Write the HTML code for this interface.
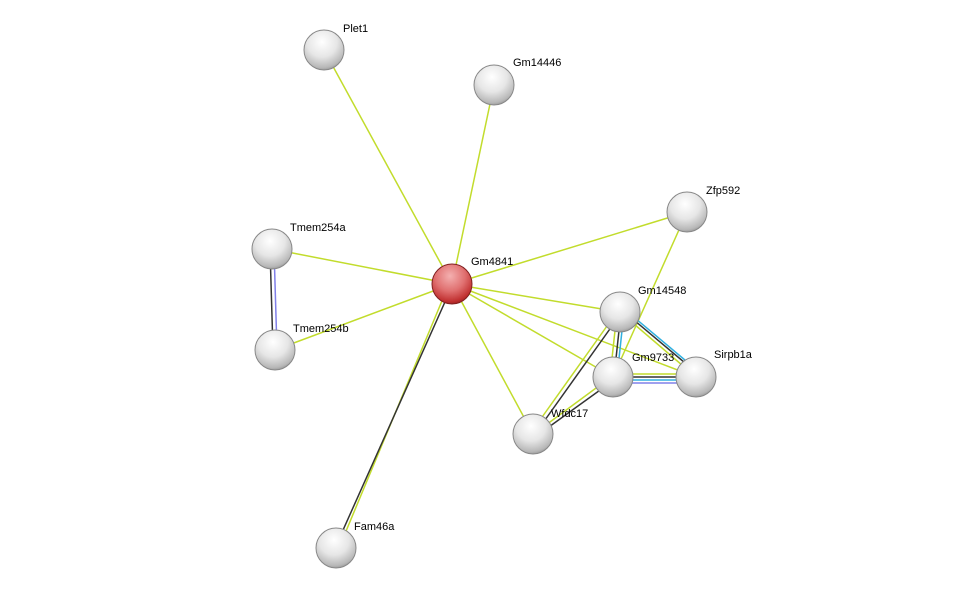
<!DOCTYPE html>
<html><head><style>
html,body{margin:0;padding:0;background:#fff;}
svg{display:block;}
text{font-family:"Liberation Sans",sans-serif;font-size:11px;fill:#000;}
</style></head><body>
<svg width="975" height="593" viewBox="0 0 975 593">
<defs>
<radialGradient id="g" cx="0.45" cy="0.3" r="0.75">
<stop offset="0" stop-color="#ffffff"/><stop offset="0.5" stop-color="#e6e6e6"/><stop offset="0.85" stop-color="#b8b8b8"/><stop offset="1" stop-color="#8a8a8a"/>
</radialGradient>
<radialGradient id="r" cx="0.45" cy="0.3" r="0.75">
<stop offset="0" stop-color="#f4b0b0"/><stop offset="0.5" stop-color="#e07070"/><stop offset="0.85" stop-color="#c03030"/><stop offset="1" stop-color="#8a1a1a"/>
</radialGradient>
</defs>
<g stroke="#c2dc2c" stroke-width="1.5" fill="none">
<line x1="452" y1="284" x2="324" y2="50"/>
<line x1="452" y1="284" x2="494" y2="85"/>
<line x1="452" y1="284" x2="687" y2="212"/>
<line x1="452" y1="284" x2="272" y2="249"/>
<line x1="452" y1="284" x2="275" y2="350"/>
<line x1="452" y1="284" x2="620" y2="312"/>
<line x1="452" y1="284" x2="613" y2="377"/>
<line x1="452" y1="284" x2="696" y2="377"/>
<line x1="452" y1="284" x2="533" y2="434"/>
<line x1="687" y1="212" x2="613" y2="377"/>
<line x1="620" y1="312" x2="696" y2="377"/>
<line x1="449" y1="284" x2="339" y2="548"/>
<line x1="617" y1="312" x2="530" y2="434"/>
<line x1="611" y1="377" x2="531" y2="436"/>
<line x1="617" y1="312" x2="610" y2="377"/>
<line x1="613" y1="374" x2="696" y2="374"/>
</g>
<g stroke="#333" stroke-width="1.5" fill="none">
<line x1="453" y1="284" x2="335" y2="548"/>
<line x1="622" y1="312" x2="535" y2="434"/>
<line x1="614" y1="380" x2="535" y2="437"/>
<line x1="621" y1="312" x2="614" y2="377"/>
<line x1="622" y1="310" x2="697" y2="373"/>
<line x1="613" y1="377" x2="696" y2="377"/>
<line x1="270" y1="249" x2="273" y2="350"/>
</g>
<g stroke="#30b0e0" stroke-width="1.5" fill="none">
<line x1="624" y1="312" x2="617" y2="377"/>
<line x1="623" y1="308" x2="698" y2="371"/>
<line x1="613" y1="380" x2="696" y2="380"/>
</g>
<g stroke="#8080e8" stroke-width="1.5" fill="none">
<line x1="274" y1="249" x2="277" y2="350"/>
<line x1="613" y1="383" x2="696" y2="383"/>
</g>
<g stroke="#888" stroke-width="1">
<circle cx="324" cy="50" r="20" fill="url(#g)"/>
<circle cx="494" cy="85" r="20" fill="url(#g)"/>
<circle cx="687" cy="212" r="20" fill="url(#g)"/>
<circle cx="272" cy="249" r="20" fill="url(#g)"/>
<circle cx="275" cy="350" r="20" fill="url(#g)"/>
<circle cx="620" cy="312" r="20" fill="url(#g)"/>
<circle cx="613" cy="377" r="20" fill="url(#g)"/>
<circle cx="696" cy="377" r="20" fill="url(#g)"/>
<circle cx="533" cy="434" r="20" fill="url(#g)"/>
<circle cx="336" cy="548" r="20" fill="url(#g)"/>
<circle cx="452" cy="284" r="20" fill="url(#r)" stroke="#802020"/>
</g>
<text x="343" y="32">Plet1</text>
<text x="513" y="66">Gm14446</text>
<text x="706" y="194">Zfp592</text>
<text x="290" y="231">Tmem254a</text>
<text x="471" y="265">Gm4841</text>
<text x="293" y="332">Tmem254b</text>
<text x="638" y="294">Gm14548</text>
<text x="632" y="361">Gm9733</text>
<text x="714" y="358">Sirpb1a</text>
<text x="551" y="417">Wfdc17</text>
<text x="354" y="530">Fam46a</text>
</svg>
</body></html>
